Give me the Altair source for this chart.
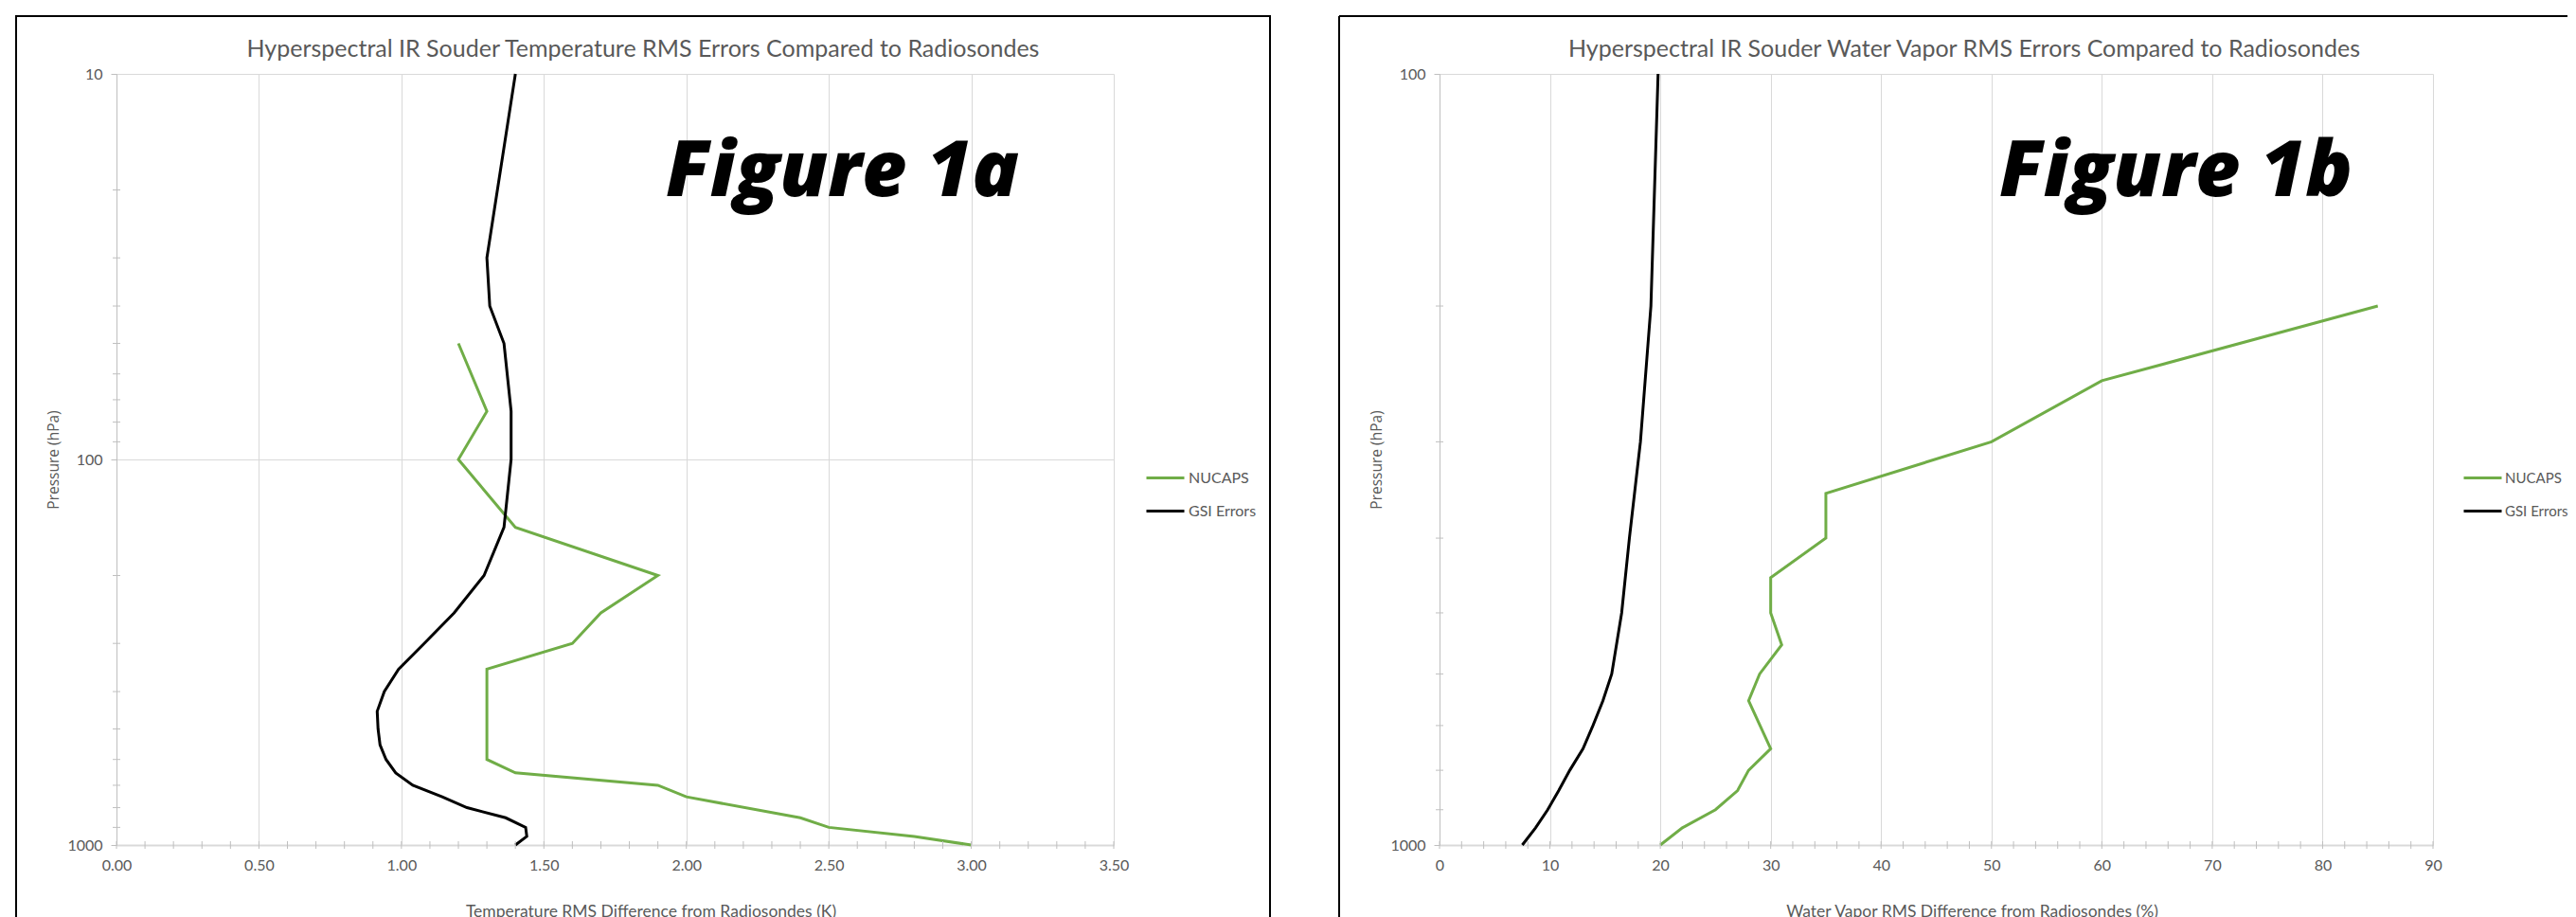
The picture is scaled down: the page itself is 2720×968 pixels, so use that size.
import altair as alt
import pandas as pd

# ---------------- Figure 1a : temperature ----------------
temp_nucaps_p = [50, 75, 100, 150, 200, 250, 300, 350, 600, 650, 700, 750, 850, 900, 950, 1000]
temp_nucaps_v = [1.20, 1.30, 1.20, 1.40, 1.90, 1.70, 1.60, 1.30, 1.30, 1.40, 1.90, 2.00, 2.40, 2.50, 2.80, 3.00]
temp_gsi_p = [10, 30, 40, 50, 75, 100, 150, 200, 250, 300, 350, 400, 450, 500, 550, 600,
              650, 700, 750, 800, 850, 900, 950, 1000]
temp_gsi_v = [1.40, 1.30, 1.31, 1.36, 1.385, 1.385, 1.36, 1.29, 1.185, 1.08, 0.99, 0.94, 0.915, 0.918,
              0.925, 0.946, 0.98, 1.04, 1.143, 1.23, 1.366, 1.436, 1.44, 1.40]
temp_x_major = [0.0, 0.5, 1.0, 1.5, 2.0, 2.5, 3.0, 3.5]
temp_x_minor = [round(i * 0.1, 1) for i in range(36)]
temp_y_major = [10, 100, 1000]
temp_y_minor = [20, 30, 40, 50, 60, 70, 80, 90, 200, 300, 400, 500, 600, 700, 800, 900]

# ---------------- Figure 1b : water vapor ----------------
wv_nucaps_p = [200, 250, 300, 350, 400, 450, 500, 550, 600, 650, 750, 800, 850, 900, 950, 1000]
wv_nucaps_v = [85, 60, 50, 35, 35, 30, 30, 31, 29, 28, 30, 28, 27, 25, 22, 20]
wv_gsi_p = [100, 200, 300, 400, 500, 600, 650, 700, 750, 800, 850, 900, 950, 1000]
wv_gsi_v = [19.8, 19.15, 18.2, 17.2, 16.5, 15.6, 14.8, 13.9, 13.0, 11.8, 10.8, 9.8, 8.7, 7.5]
wv_x_major = [0, 10, 20, 30, 40, 50, 60, 70, 80, 90]
wv_x_minor = [i * 2 for i in range(46)]
wv_y_major = [100, 1000]
wv_y_minor = [200, 300, 400, 500, 600, 700, 800, 900]

series_names = ["NUCAPS", "GSI Errors"]
series_colors = ["#70AD47", "#000000"]

GRAY_TEXT = "#595959"
GRID = "#D9D9D9"
AXIS = "#BFBFBF"
FONT = "Lato"
H = 814


def panel(n_p, n_v, g_p, g_v, xdom, xmaj, xmin, xfmt, ydom, ymaj, ymin,
          title, xtitle, fig_label, width, rect_right, legend_x, legend_fs, legend_off,
          fig_x, xtitle_x, closed):
    df = pd.DataFrame({
        "p": n_p + g_p,
        "v": n_v + g_v,
        "series": [series_names[0]] * len(n_p) + [series_names[1]] * len(g_p),
    })
    xs = alt.Scale(domain=xdom, nice=False, zero=False)
    ys = alt.Scale(type="log", domain=ydom, reverse=True, nice=False)
    xax = alt.Axis(
        values=xmaj, format=xfmt, title=xtitle, grid=True, gridColor=GRID,
        ticks=False, tickSize=0, domainColor=GRID, domainWidth=2, labelFlush=False,
        labelColor=GRAY_TEXT, labelFont=FONT, labelFontSize=16, labelPadding=13,
        titleFont=FONT, titleFontSize=17.5, titleFontWeight="normal", titleColor=GRAY_TEXT,
        titleX=xtitle_x, titleY=70, titleAlign="center", titleBaseline="middle")
    yax = alt.Axis(
        values=ymaj, format="d", title="Pressure (hPa)", grid=True, gridColor=GRID,
        tickSize=6, tickColor=AXIS, domainColor=AXIS, labelFlush=False,
        labelColor=GRAY_TEXT, labelFont=FONT, labelFontSize=16, labelPadding=9,
        titleFont="Open Sans", titleFontSize=15.5, titleFontWeight="normal", titleColor=GRAY_TEXT,
        titleX=-67, titleY=H / 2, titleAngle=270, titleAlign="center", titleBaseline="middle")

    lines = alt.Chart(df).mark_line(strokeWidth=3).encode(
        x=alt.X("v:Q", scale=xs, axis=xax),
        y=alt.Y("p:Q", scale=ys, axis=yax),
        color=alt.Color("series:N", scale=alt.Scale(domain=series_names, range=series_colors),
                        legend=alt.Legend(title=None, orient="none", legendX=legend_x, legendY=405,
                                          symbolType="stroke", symbolSize=1600, symbolStrokeWidth=3,
                                          labelFont=FONT, labelFontSize=legend_fs, labelColor=GRAY_TEXT,
                                          labelOffset=legend_off, rowPadding=5, padding=0)),
        order=alt.Order("p:Q"),
    )

    xt = alt.Chart(pd.DataFrame({"v": xmin})).mark_rule(color=AXIS, strokeWidth=1).encode(
        x=alt.X("v:Q", scale=xs, axis=xax), y=alt.value(H - 4), y2=alt.value(H + 4))
    yt = alt.Chart(pd.DataFrame({"p": ymin})).mark_rule(color=AXIS, strokeWidth=1).encode(
        y=alt.Y("p:Q", scale=ys, axis=yax), x=alt.value(-4), x2=alt.value(4))

    ttl = alt.Chart(pd.DataFrame({"t": [title]})).mark_text(
        font=FONT, fontSize=25, color=GRAY_TEXT, align="center", baseline="middle").encode(
        text="t:N", x=alt.value(width / 2 + 29.5), y=alt.value(-26))
    fig = alt.Chart(pd.DataFrame({"t": [fig_label]})).mark_text(
        font="Open Sans", fontSize=82, fontWeight=800, fontStyle="italic", color="black",
        align="left", baseline="alphabetic").encode(
        text="t:N", x=alt.value(fig_x), y=alt.value(129))

    layers = [lines, xt, yt, ttl, fig]
    one = pd.DataFrame({"b": [0]})
    if closed:
        layers.append(alt.Chart(one).mark_rect(
            fill="transparent", stroke="black", strokeWidth=2).encode(
            x=alt.value(-106), x2=alt.value(width + rect_right),
            y=alt.value(-61), y2=alt.value(H + 130)))
    else:
        layers.append(alt.Chart(one).mark_rule(color="black", strokeWidth=2).encode(
            x=alt.value(-106), y=alt.value(-61), y2=alt.value(H + 130)))
        layers.append(alt.Chart(one).mark_rule(color="black", strokeWidth=2).encode(
            x=alt.value(-106), x2=alt.value(width + rect_right), y=alt.value(-61)))

    return alt.layer(*layers).properties(width=width, height=H)


left = panel(temp_nucaps_p, temp_nucaps_v, temp_gsi_p, temp_gsi_v,
             [0, 3.5], temp_x_major, temp_x_minor, ".2f", [10, 1000], temp_y_major, temp_y_minor,
             "Hyperspectral IR Souder Temperature RMS Errors Compared to Radiosondes",
             "Temperature RMS Difference from Radiosondes (K)", "Figure 1a",
             1053, 165, 1086, 16, 3, 580, 564, True)
right = panel(wv_nucaps_p, wv_nucaps_v, wv_gsi_p, wv_gsi_v,
              [0, 90], wv_x_major, wv_x_minor, "d", [100, 1000], wv_y_major, wv_y_minor,
              "Hyperspectral IR Souder Water Vapor RMS Errors Compared to Radiosondes",
              "Water Vapor RMS Difference from Radiosondes (%)", "Figure 1b",
              1049, 142, 1080, 15, 2, 591, 562, False)

chart = alt.hconcat(left, right, spacing=344, bounds="flush").resolve_scale(
    color="independent", x="independent", y="independent"
).properties(
    padding={"left": 8, "top": 8, "right": 0, "bottom": 0},
    background="white",
).configure_view(strokeWidth=0)

chart.save("out.html", embed_options={"renderer": "svg", "actions": False})
